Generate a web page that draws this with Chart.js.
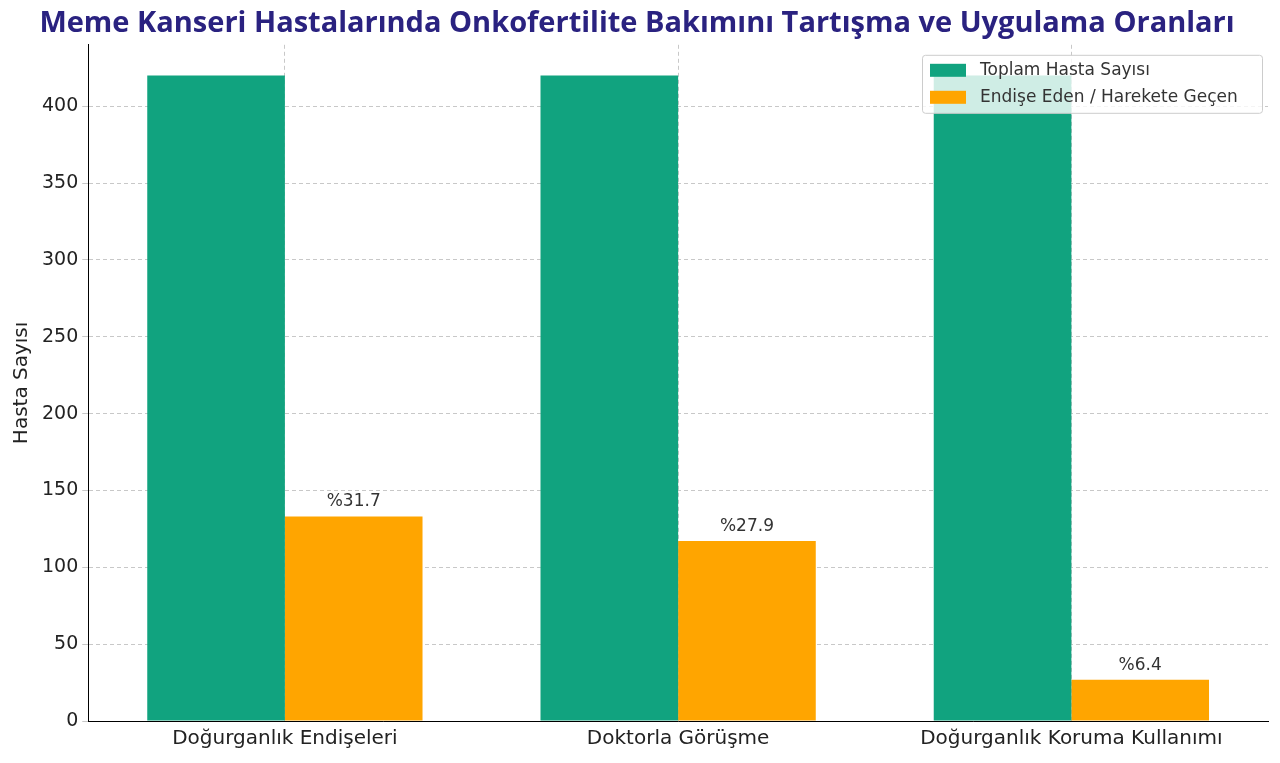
<!DOCTYPE html>
<html><head><meta charset="utf-8">
<script src="https://cdn.jsdelivr.net/npm/chart.js@4/dist/chart.umd.min.js"></script>
<style>html,body{margin:0;padding:0;background:#fff}#w{width:1280px;height:763px;position:relative}</style>
</head><body><div id="w"><canvas id="c" width="1280" height="763"></canvas></div>
<script>
const categories = ["Doğurganlık Endişeleri", "Doktorla Görüşme", "Doğurganlık Koruma Kullanımı"];
const totalPatients = [420, 420, 420];
const concernedPatients = [133.1, 117.2, 26.9];
const percentLabels = ["%31.7", "%27.9", "%6.4"];
const seriesNames = ["Toplam Hasta Sayısı", "Endişe Eden / Harekete Geçen"];
const F = "'DejaVu Sans', sans-serif";

const deco = {
  id: 'deco',
  afterDatasetsDraw(chart) {
    const ctx = chart.ctx;
    const meta = chart.getDatasetMeta(1);
    ctx.save();
    ctx.font = "17px " + F; ctx.fillStyle = "#333"; ctx.textAlign = "center"; ctx.textBaseline = "bottom";
    meta.data.forEach((b, i) => ctx.fillText(percentLabels[i], b.x, b.y - 6));
    // legend
    const ca = chart.chartArea;
    const x0 = ca.right - 346, y0 = ca.top + 10, w = 340, h = 58;
    ctx.fillStyle = "rgba(255,255,255,0.8)"; ctx.strokeStyle = "#ccc"; ctx.lineWidth = 1;
    ctx.beginPath(); ctx.roundRect(x0 + .5, y0 + .5, w, h, 3); ctx.fill(); ctx.stroke();
    const cols = ["#11a37f", "#ffa500"];
    ctx.textAlign = "left"; ctx.textBaseline = "middle"; ctx.fillStyle = "#333";
    seriesNames.forEach((n, i) => {
      const yy = y0 + 15 + i * 27;
      ctx.fillStyle = cols[i]; ctx.fillRect(x0 + 8, yy - 6, 36, 13);
      ctx.fillStyle = "#333"; ctx.fillText(n, x0 + 58, yy + 1);
    });
    ctx.restore();
  }
};

new Chart(document.getElementById('c'), {
  type: 'bar',
  data: { labels: categories, datasets: [
    { label: seriesNames[0], data: totalPatients, backgroundColor: "#11a37f", categoryPercentage: 0.7, barPercentage: 1 },
    { label: seriesNames[1], data: concernedPatients, backgroundColor: "#ffa500", categoryPercentage: 0.7, barPercentage: 1 }
  ]},
  options: {
    responsive: false, animation: false,
    layout: { padding: { left: 6, right: 12, top: 0, bottom: 6 } },
    plugins: {
      legend: { display: false }, tooltip: { enabled: false },
      title: { display: true, text: "Meme Kanseri Hastalarında Onkofertilite Bakımını Tartışma ve Uygulama Oranları",
        color: "#2a2280", font: { family: "'Liberation Sans Narrow', 'Open Sans', sans-serif", size: 29 }, padding: { top: 6, bottom: 4 } }
    },
    scales: {
      x: { grid: { color: "#c8c8c8", borderDash: [4, 3], offset: false, drawTicks: false }, border: { color: "#000", dash: [4,3] },
        ticks: { color: "#222", font: { family: F, size: 20 }, padding: 6 } },
      y: { min: 0, max: 440, grid: { color: "#c8c8c8", drawTicks: true, tickLength: 6 }, border: { color: "#000", dash: [4,3] },
        title: { display: true, text: "Hasta Sayısı", color: "#222", font: { family: F, size: 20 } },
        ticks: { stepSize: 50, color: "#222", font: { family: F, size: 19 }, padding: 4,
          callback: v => v % 50 === 0 ? v : null } }
    }
  },
  plugins: [deco]
});
</script></body></html>
